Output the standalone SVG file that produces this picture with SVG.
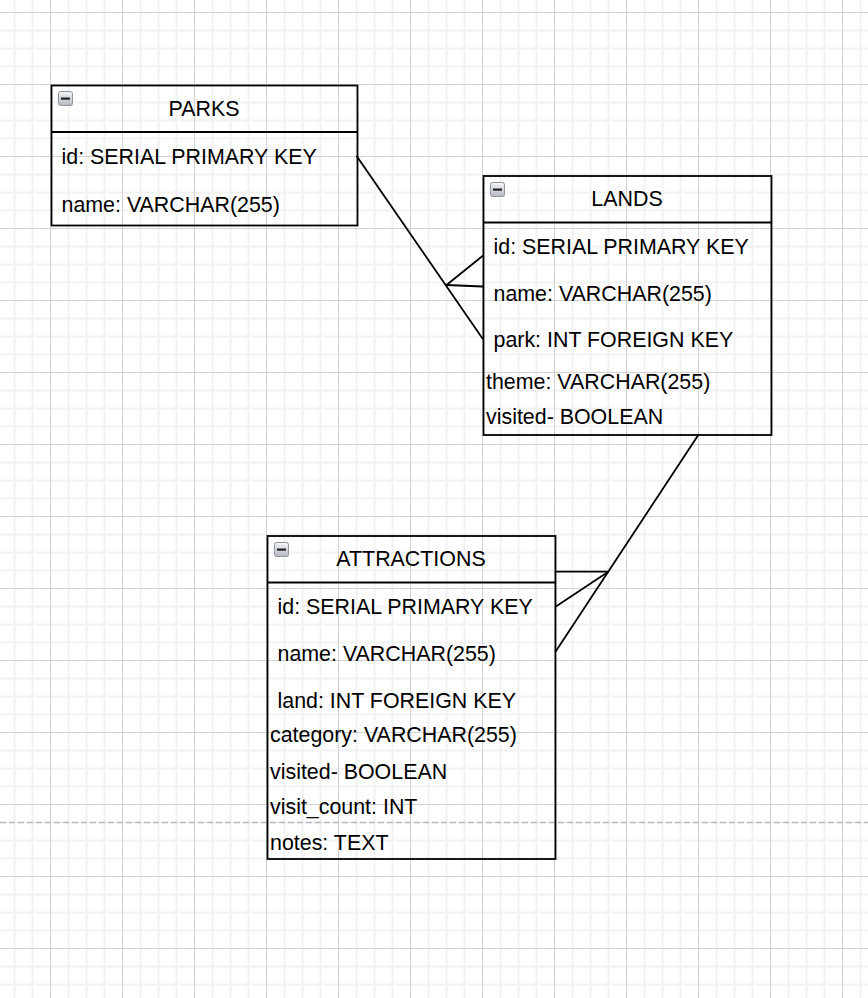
<svg xmlns="http://www.w3.org/2000/svg" width="868" height="998" viewBox="0 0 868 998">
<style>
.box{fill:none;stroke:#000;stroke-width:1.8}
.sep{stroke:#000;stroke-width:1.8}
.title{font-family:"Liberation Sans",Arial,Helvetica,sans-serif;font-size:21.4px;fill:#000;text-anchor:middle}
.row{font-family:"Liberation Sans",Arial,Helvetica,sans-serif;font-size:21.4px;fill:#000}
.conn line{stroke:#000;stroke-width:1.8;stroke-linecap:round}
.icon-box{fill:url(#ig);stroke:#8f959e;stroke-width:1}
.icon-bar{fill:#222}
</style>
<defs>
<pattern id="grid" patternUnits="userSpaceOnUse" x="50" y="12" width="72" height="72">
<rect width="72" height="72" fill="#fff"/>
<g stroke="#f2f2f2" stroke-width="2">
<line x1="18.5" y1="0" x2="18.5" y2="72"/>
<line x1="36.5" y1="0" x2="36.5" y2="72"/>
<line x1="54.5" y1="0" x2="54.5" y2="72"/>
<line x1="0" y1="18.5" x2="72" y2="18.5"/>
<line x1="0" y1="36.5" x2="72" y2="36.5"/>
<line x1="0" y1="54.5" x2="72" y2="54.5"/>
</g>
<g stroke="#d2d2d2" stroke-width="1">
<line x1="0.5" y1="0" x2="0.5" y2="72"/>
<line x1="0" y1="0.5" x2="72" y2="0.5"/>
</g>
</pattern>
<linearGradient id="ig" x1="0" y1="0" x2="0" y2="1">
<stop offset="0" stop-color="#f4f5f7"/>
<stop offset="1" stop-color="#b4b9c1"/>
</linearGradient>
<g id="minus">
<rect class="icon-box" x="0.5" y="0.5" width="14" height="14" rx="2"/>
<rect class="icon-bar" x="3" y="6.5" width="9" height="2.2"/>
</g>
</defs>
<rect width="868" height="998" fill="url(#grid)"/>
<line x1="0" y1="822.5" x2="868" y2="822.5" stroke="#bdbdbd" stroke-width="1.6" stroke-dasharray="6 3"/>

<g id="connectors" class="conn">
<line x1="357" y1="156.5" x2="482.5" y2="338.5"/>
<line x1="446.5" y1="285" x2="482.5" y2="256"/>
<line x1="446.5" y1="285" x2="482.5" y2="286.5"/>
<line x1="698.3" y1="435" x2="555.5" y2="651.7"/>
<line x1="608.3" y1="571.7" x2="555.5" y2="571.7"/>
<line x1="608.3" y1="571.7" x2="555.5" y2="606.7"/>
</g>

<g id="parks">
<rect class="box" x="51.5" y="85.5" width="306" height="140"/>
<line class="sep" x1="51.5" y1="132" x2="357.5" y2="132"/>
<use href="#minus" x="58" y="91"/>
<text class="title" x="204" y="116">PARKS</text>
<text class="row" x="61.5" y="164">id: SERIAL PRIMARY KEY</text>
<text class="row" x="61.5" y="212">name: VARCHAR(255)</text>
</g>

<g id="lands">
<rect class="box" x="483.5" y="176" width="288" height="259"/>
<line class="sep" x1="483.5" y1="222.5" x2="771.5" y2="222.5"/>
<use href="#minus" x="490" y="182"/>
<text class="title" x="627" y="206">LANDS</text>
<text class="row" x="493.5" y="253.5">id: SERIAL PRIMARY KEY</text>
<text class="row" x="493.5" y="300.5">name: VARCHAR(255)</text>
<text class="row" x="493.5" y="347">park: INT FOREIGN KEY</text>
<text class="row" x="486" y="388.5">theme: VARCHAR(255)</text>
<text class="row" x="486" y="424">visited- BOOLEAN</text>
</g>

<g id="attractions">
<rect class="box" x="267.5" y="536" width="288" height="323"/>
<line class="sep" x1="267.5" y1="582.5" x2="555.5" y2="582.5"/>
<use href="#minus" x="274" y="542"/>
<text class="title" x="411" y="566">ATTRACTIONS</text>
<text class="row" x="277.5" y="613.5">id: SERIAL PRIMARY KEY</text>
<text class="row" x="277.5" y="660.5">name: VARCHAR(255)</text>
<text class="row" x="277.5" y="707.5">land: INT FOREIGN KEY</text>
<text class="row" x="270" y="742">category: VARCHAR(255)</text>
<text class="row" x="270" y="778.5">visited- BOOLEAN</text>
<text class="row" x="270" y="814">visit_count: INT</text>
<text class="row" x="270" y="850">notes: TEXT</text>
</g>
</svg>
